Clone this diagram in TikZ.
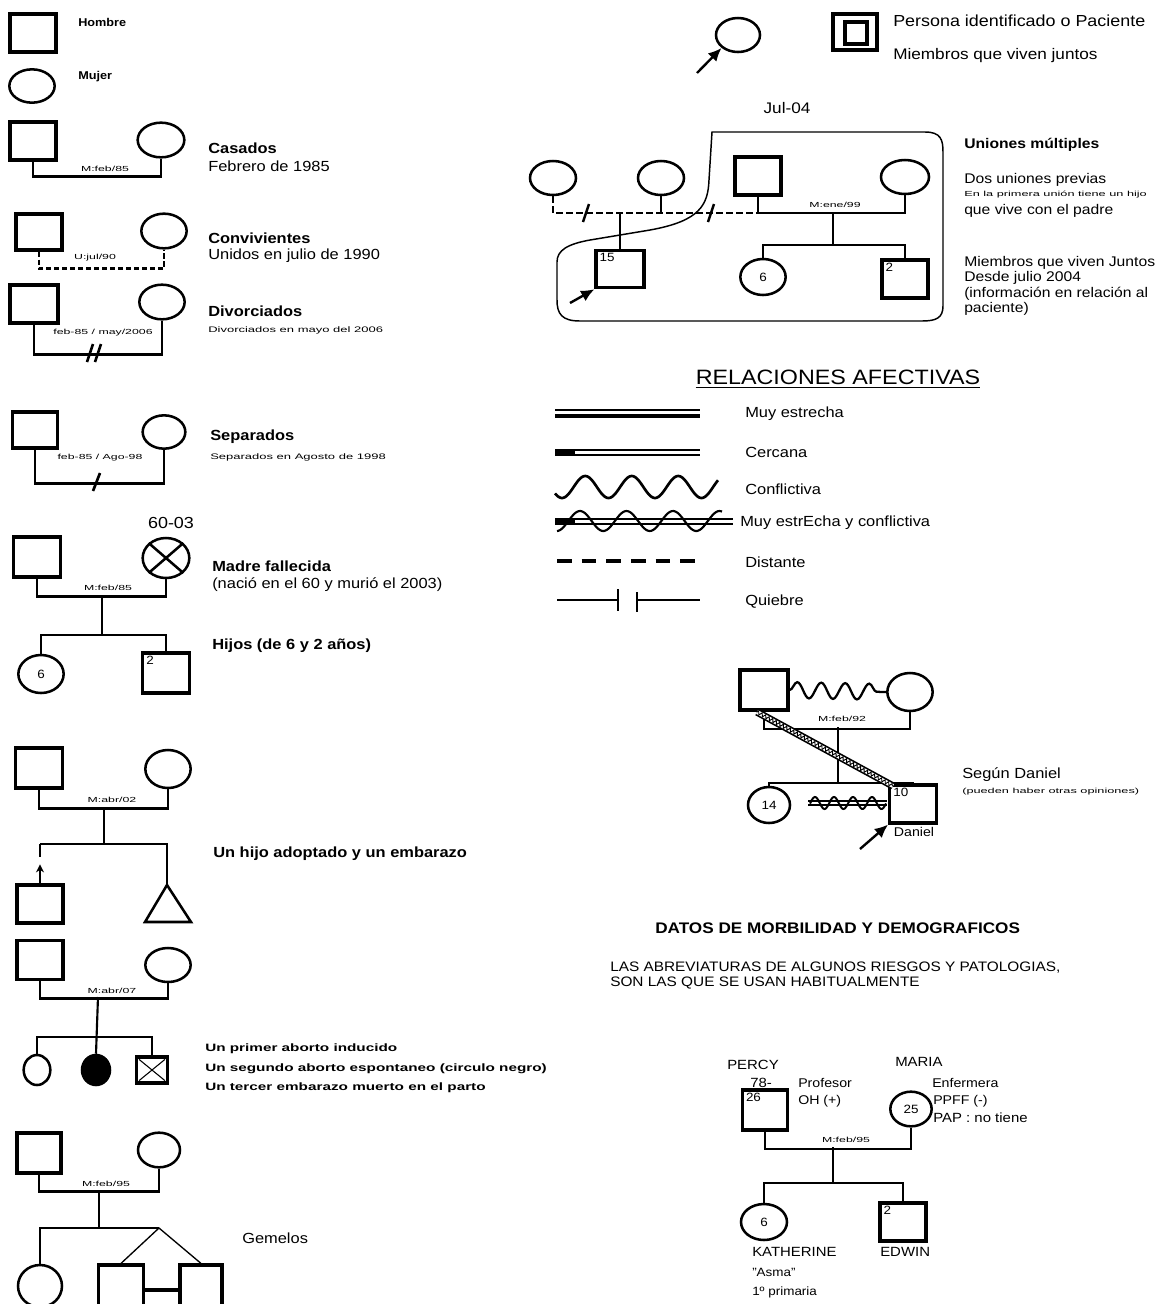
\documentclass[tikz,border=0pt]{standalone}
\usepackage{graphicx}
\usepackage{fontspec}
\setmainfont{Liberation Sans}[FakeStretch=1.12]
\usetikzlibrary{shapes.geometric,arrows.meta,decorations.pathmorphing,calc}
\newcommand{\wx}[2]{\scalebox{#1}[1]{#2}}
\begin{document}
\begin{tikzpicture}[x=0.75pt,y=-0.75pt,
  sq/.style={draw, line width=2.4pt, rectangle, inner sep=0pt},
  fe/.style={draw, ellipse, line width=1.9pt, inner sep=0pt},
  rel/.style={line width=2.2pt},
  kid/.style={line width=1.6pt},
  thinrel/.style={line width=1pt},
  lbl/.style={font=\fontsize{5.5}{6}\selectfont, inner sep=0pt},
  desc/.style={anchor=west, inner sep=0pt, font=\fontsize{11}{13}\selectfont},
  descb/.style={anchor=west, inner sep=0pt, font=\fontsize{11}{13}\selectfont\bfseries},
  smalltxt/.style={anchor=west, inner sep=0pt, font=\fontsize{6}{7}\selectfont},
  rdesc/.style={anchor=west, inner sep=0pt, font=\fontsize{10.5}{12}\selectfont},
  num/.style={inner sep=0pt, anchor=north west, font=\fontsize{9}{10}\selectfont},
  bigarrow/.style={line width=1.8pt, -{Latex[length=10pt,width=9pt]}},
]
\useasboundingbox (0,0) rectangle (1156,1304);
\fill[white] (0,0) rectangle (1156,1304);

% ---------------- LEFT COLUMN ----------------
\node[sq, minimum width=34.5pt, minimum height=28.5pt] (h1) at (33,33) {};
\node[descb, font=\fontsize{8.5}{10}\selectfont\bfseries] (t1) at (78,22) {Hombre};
\node[fe, minimum width=34pt, minimum height=25pt] (m1) at (32,86) {};
\node[descb, font=\fontsize{8.5}{10}\selectfont\bfseries] (t2) at (78,77) {Mujer};

% Casados
\node[sq, minimum width=34.5pt, minimum height=28.5pt] (h2) at (33,141) {};
\node[fe, minimum width=35pt, minimum height=26pt] (m2) at (161,140) {};
\draw[rel] (h2.south) -- ++(0,15) -| (m2.south);
\node[lbl] (l2) at (105,169) {\wx{1.5}{M:feb/85}};
\node[descb] (t3) at (208,148) {Casados};
\node[desc] (t4) at (208,166) {Febrero de 1985};

% Convivientes
\node[sq, minimum width=34.5pt, minimum height=27pt] (h3) at (39,232) {};
\node[fe, minimum width=34pt, minimum height=26pt] (m3) at (164,231) {};
\draw[rel, dash pattern=on 4pt off 2pt] (h3.south) -- ++(0,17) -| (m3.south);
\node[lbl] (l3) at (95,258) {\wx{1.5}{U:jul/90}};
\node[descb] (t5) at (208,238) {Convivientes};
\node[desc] (t6) at (208,256) {Unidos en julio de 1990};

% Divorciados
\node[sq, minimum width=36pt, minimum height=28.5pt] (h4) at (34,304) {};
\node[fe, minimum width=34pt, minimum height=26pt] (m4) at (162,302) {};
\draw[rel] (h4.south) -- ++(0,30) -| (m4.south);
\coordinate (d4) at (95,353);
\draw[line width=2pt] (d4) ++(-8,9) -- ++(6,-18) (d4) ++(0,9) -- ++(6,-18);
\node[lbl] (l4) at (103,333) {\wx{1.5}{feb-85 / may/2006}};
\node[descb] (t7) at (208,311) {Divorciados};
\node[smalltxt] (t8) at (208,330) {\wx{1.45}{Divorciados en mayo del 2006}};

% Separados
\node[sq, minimum width=34pt, minimum height=27pt] (h5) at (35,430) {};
\node[fe, minimum width=32pt, minimum height=25pt] (m5) at (164,432) {};
\draw[rel] (h5.south) -- ++(0,34) -| (m5.south);
\coordinate (d5) at (97,482);
\draw[line width=2pt] (d5) ++(-4,9) -- ++(7,-18);
\node[lbl] (l5) at (100,458) {\wx{1.5}{feb-85 / Ago-98}};
\node[descb] (t9) at (210,437) {Separados};
\node[smalltxt] (t10) at (210,457) {\wx{1.45}{Separados en Agosto de 1998}};

% Madre fallecida
\node[font=\fontsize{12}{14}\selectfont, inner sep=0pt] (y6) at (171,523) {60-03};
\node[sq, minimum width=35pt, minimum height=30pt] (h6) at (37,557) {};
\node[fe, minimum width=35pt, minimum height=30pt] (m6) at (166,558) {};
\draw[line width=1.9pt] (m6.north east) -- (m6.south west) (m6.north west) -- (m6.south east);
\draw[rel] (h6.south) -- ++(0,18) -| (m6.south);
\node[lbl] (l6) at (108,588) {\wx{1.5}{M:feb/85}};
\coordinate (j6) at (102,595);
\coordinate (k6) at (102,635);
\node[fe, minimum width=34pt, minimum height=28.5pt, font=\fontsize{9}{10}\selectfont] (c6) at (41,674) {6};
\node[sq, minimum width=35pt, minimum height=30pt] (s6) at (166,673) {};
\node[num] (n6) at ($(s6.north west)+(5,4)$) {2};
\draw[kid] (j6) -- (k6);
\draw[kid] (c6.north) |- (k6) -| (s6.north);
\node[descb] (t11) at (212,566) {Madre fallecida};
\node[desc] (t12) at (212,585) {(nació en el 60 y murió el 2003)};
\node[descb] (t13) at (212,646) {Hijos (de 6 y 2 años)};

% Adopcion y embarazo
\node[sq, minimum width=35pt, minimum height=30pt] (h7) at (39,768) {};
\node[fe, minimum width=34pt, minimum height=28.5pt] (m7) at (168,769) {};
\draw[rel] (h7.south) -- ++(0,19) -| (m7.south);
\node[lbl] (l7) at (112,800) {\wx{1.5}{M:abr/02}};
\coordinate (j7) at (104,807);
\coordinate (k7) at (104,844);
\node[sq, minimum width=34.5pt, minimum height=28.5pt] (a7) at (40,904) {};
\coordinate (t7apex) at (167,885);
\draw[line width=1.9pt, line join=miter] (t7apex) -- (191,922) -- (145,922) -- cycle;
\draw[kid] (j7) -- (k7);
\draw[kid] (a7.north |- k7) -- (t7apex |- k7) -- (t7apex);
\draw[rel] (a7.north |- k7) -- ++(0,13);
\draw[rel, -{Stealth[length=6pt,width=6pt]}] (a7.north) -- ++(0,-19);
\node[descb] (t14) at (213,854) {Un hijo adoptado y un embarazo};

% Abortos
\node[sq, minimum width=34.5pt, minimum height=29pt] (h8) at (40,960) {};
\node[fe, minimum width=34pt, minimum height=25.5pt] (m8) at (168,965) {};
\draw[rel] (h8.south) -- ++(0,17.5) -| (m8.south);
\node[lbl] (l8) at (112,991) {\wx{1.5}{M:abr/07}};
\coordinate (j8) at (98,997);
\coordinate (k8) at (98,1037);
\node[fe, minimum width=20pt, minimum height=22.5pt] (c8a) at (37,1070) {};
\node[fe, fill=black, minimum width=21pt, minimum height=22.5pt] (c8b) at (96,1070) {};
\node[sq, minimum width=23pt, minimum height=19.5pt] (s8) at (152,1070) {};
\draw[line width=0.8pt] ($(s8.north west)+(4,4)$) -- ($(s8.south east)+(-4,-4)$) ($(s8.north east)+(-4,4)$) -- ($(s8.south west)+(4,-4)$);
\draw[kid] (j8) -- (c8b.north);
\draw[kid] (c8a.north) |- (k8) -| (s8.north);
\node[descb, font=\fontsize{8}{9}\selectfont\bfseries] (t15) at (205,1049) {\wx{1.28}{Un primer aborto inducido}};
\node[descb, font=\fontsize{8}{9}\selectfont\bfseries] (t16) at (205,1069) {\wx{1.28}{Un segundo aborto espontaneo (circulo negro)}};
\node[descb, font=\fontsize{8}{9}\selectfont\bfseries] (t17) at (205,1088) {\wx{1.28}{Un tercer embarazo muerto en el parto}};

% Gemelos
\node[sq, minimum width=33pt, minimum height=30pt] (h9) at (39,1153) {};
\node[fe, minimum width=31.5pt, minimum height=26pt] (m9) at (159,1150) {};
\draw[rel] (h9.south) -- ++(0,17) -| (m9.south);
\node[lbl] (l9) at (106,1184) {\wx{1.5}{M:feb/95}};
\coordinate (j9) at (99,1190);
\coordinate (k9) at (99,1228);
\coordinate (tw) at (159,1228);
\node[fe, minimum width=33pt, minimum height=31.5pt] (c9) at (40,1286) {};
\node[sq, minimum width=34pt, minimum height=37.5pt] (tw1) at (121,1290) {};
\node[sq, minimum width=31.5pt, minimum height=37.5pt] (tw2) at (201,1290) {};
\draw[kid] (j9) -- (k9);
\draw[kid] (c9.north) |- (tw);
\draw[thinrel] (tw1.north) -- (tw) -- (tw2.north);
\draw[line width=3.2pt] (tw1.east) -- (tw2.west);
\node[desc] (t18) at (242,1238) {Gemelos};

% ---------------- RIGHT COLUMN ----------------
\node[fe, minimum width=33pt, minimum height=25.5pt] (pc) at (738,35) {};
\coordinate (pa) at (697,73);
\draw[bigarrow] (pa) -- (pc.south west);
\node[sq, line width=2.8pt, minimum width=33pt, minimum height=27pt] (pat) at (855,32) {};
\node[sq, line width=2.8pt, minimum width=16pt, minimum height=16pt] (pati) at (856,33) {};
\node[desc, font=\fontsize{12}{14}\selectfont] (t19) at (893,21) {Persona identificado o Paciente};
\node[desc, font=\fontsize{11.5}{14}\selectfont] (t20) at (893,56) {Miembros que viven juntos};

% Uniones multiples
\node[font=\fontsize{11.5}{13}\selectfont, inner sep=0pt] (jul) at (787,108) {Jul-04};
\draw[line width=1.1pt]
  (712,132) -- (925,132) .. controls (941,132) and (943,140) .. (943,152)
  -- (943,306) .. controls (943,318) and (936,321) .. (922,321)
  -- (580,321) .. controls (562,321) and (557,314) .. (557,300)
  -- (557,262) .. controls (557,250) and (568,244) .. (590,240)
  -- (650,230) .. controls (700,221) and (708,205) .. (709,180) -- cycle;
\node[fe, minimum width=34.5pt, minimum height=25.5pt] (mc1) at (553,178) {};
\node[fe, minimum width=34.5pt, minimum height=25.5pt] (mc2) at (661,178) {};
\node[sq, minimum width=34.5pt, minimum height=28.5pt] (mf) at (758,176) {};
\node[fe, minimum width=36pt, minimum height=25.5pt] (mw) at (905,177) {};
\coordinate (ym) at (0,213);
\draw[rel, dash pattern=on 5pt off 2.5pt] (mc1.south) -- (mc1.south |- ym) -- (mf.south |- ym);
\draw[kid] (mc2.south) -- (mc2.south |- ym);
\draw[rel] (mf.south) -- (mf.south |- ym) -- (mw.south |- ym) -- (mw.south);
\coordinate (sl1) at (586,213);
\coordinate (sl2) at (711,213);
\draw[line width=1.8pt] (sl1) ++(-3,9) -- ++(6,-18) (sl2) ++(-3,9) -- ++(6,-18);
\node[lbl] (lm) at (835,205) {\wx{1.5}{M:ene/99}};
\node[sq, minimum width=36pt, minimum height=28pt] (ms) at (620,269) {};
\node[num] (n15) at ($(ms.north west)+(5,4)$) {15};
\draw[kid] (ms.north |- ym) -- (ms.north);
\coordinate (ma) at (570,303);
\draw[bigarrow] (ma) -- (ms.south west);
\coordinate (jm) at (833,213);
\coordinate (km) at (833,245);
\node[fe, minimum width=34pt, minimum height=27pt, font=\fontsize{9}{10}\selectfont] (mk) at (763,277) {6};
\node[sq, minimum width=34.5pt, minimum height=28.5pt] (mb) at (905,279) {};
\node[num] (n2b) at ($(mb.north west)+(5,4)$) {2};
\draw[kid] (jm) -- (km);
\draw[kid] (mk.north) |- (km) -| (mb.north);
\node[descb, font=\fontsize{10.5}{12}\selectfont\bfseries] (t21) at (964,145) {Uniones múltiples};
\node[rdesc] (t22) at (964,180) {Dos uniones previas};
\node[smalltxt, font=\fontsize{5.5}{6}\selectfont] (t23) at (964,195) {\wx{1.55}{En la primera unión tiene un hijo}};
\node[rdesc] (t24) at (964,211) {que vive con el padre};
\node[rdesc] (t25) at (964,263) {Miembros que viven Juntos};
\node[rdesc] (t26) at (964,278) {Desde julio 2004};
\node[rdesc] (t27) at (964,294) {(información en relación al};
\node[rdesc] (t28) at (964,309) {paciente)};

% Relaciones afectivas
\node[font=\fontsize{15.6}{18}\selectfont, inner sep=0pt] (ra) at (838,377) {RELACIONES AFECTIVAS};
\draw[line width=1.1pt] ($(ra.south west)+(0,3)$) -- ($(ra.south east)+(0,3)$);
\coordinate (r1a) at (555,416); \coordinate (r1b) at (700,416);
\draw[line width=3.4pt] (r1a) -- (r1b);
\draw[line width=1pt] ($(r1a)+(0,-6)$) -- ($(r1b)+(0,-6)$);
\node[desc] (t29) at (745,414) {Muy estrecha};
\coordinate (r2a) at (555,450); \coordinate (r2b) at (700,450);
\draw[line width=1.3pt] (r2a) -- (r2b) ($(r2a)+(0,5)$) -- ($(r2b)+(0,5)$);
\draw[line width=4pt] ($(r2a)+(0,2.5)$) -- ++(20,0);
\node[desc] (t30) at (745,452) {Cercana};
\draw[line width=2pt] plot[domain=555:718, samples=120, smooth] (\x,{487+11*cos(7.742*(\x-562))});
\node[desc] (t31) at (745,489) {Conflictiva};
\coordinate (r4a) at (555,519); \coordinate (r4b) at (733,519);
\draw[line width=1.1pt] (r4a) -- (r4b) ($(r4a)+(0,5)$) -- ($(r4b)+(0,5)$);
\draw[line width=2.8pt] (555,521.5) -- (575,521.5);
\draw[line width=1.6pt] plot[domain=557:722, samples=120, smooth] (\x,{521-10*cos(7.742*(\x-580))});
\node[desc] (t32) at (740,523) {Muy estrEcha y conflictiva};
\coordinate (r5a) at (557,561); \coordinate (r5b) at (702,561);
\draw[line width=2.6pt, dash pattern=on 11pt off 7.5pt] (r5a) -- (r5b);
\node[desc] (t33) at (745,562) {Distante};
\coordinate (r6a) at (557,600); \coordinate (r6b) at (618,600);
\coordinate (r6c) at (637,600); \coordinate (r6d) at (700,600);
\draw[line width=1.6pt] (r6a) -- (r6b) (r6c) -- (r6d);
\draw[line width=2.2pt] ($(r6b)+(0,-11)$) -- ($(r6b)+(0,11)$) ($(r6c)+(0,-8)$) -- ($(r6c)+(0,12)$);
\node[desc] (t34) at (745,602) {Quiebre};

% Segun Daniel
\node[sq, minimum width=36pt, minimum height=30pt] (df) at (764,690) {};
\node[fe, minimum width=34pt, minimum height=28.5pt] (dm) at (910,692) {};
\draw[line width=1.7pt, decorate, decoration={snake, amplitude=6pt, segment length=18pt}] (df.east) -- (dm.west);
\draw[kid] (df.south) -- ++(0,17) -| (dm.south);
\node[lbl] (ld) at (842,719) {\wx{1.5}{M:feb/92}};
\coordinate (jd) at (838,727);
\coordinate (kd) at (838,783);
\node[fe, minimum width=31.5pt, minimum height=27pt, font=\fontsize{9}{10}\selectfont] (dc) at (769,805) {14};
\node[sq, minimum width=35pt, minimum height=28.5pt] (ds) at (913,804) {};
\node[num] (n10) at ($(ds.north west)+(5,4)$) {10};
\draw[thinrel] (jd) -- (kd);
\draw[thinrel] (dc.north) |- (kd) -| (ds.north);
\coordinate (dd1) at (757,712);
\coordinate (dd2) at (893,786);
\draw[line width=5.5pt] (dd1) -- (dd2);
\draw[line width=3pt, white] (dd1) -- (dd2);
\draw[line width=0.7pt, decorate, decoration={zigzag, amplitude=1.3pt, segment length=3pt}] (dd1) -- (dd2);
\coordinate (de1) at (808,801); \coordinate (de2) at (887,801);
\draw[line width=1.1pt] (de1) -- (de2) ($(de1)+(0,4)$) -- ($(de2)+(0,4)$);
\draw[line width=1.5pt] plot[domain=810:886, samples=80, smooth] (\x,{803-6*cos(18.95*(\x-815))});
\node[font=\fontsize{9.5}{11}\selectfont, inner sep=0pt] (dn) at (914,832) {Daniel};
\coordinate (da) at (860,849);
\draw[bigarrow] (da) -- (ds.south west);
\node[rdesc, font=\fontsize{11}{13}\selectfont] (t35) at (962,775) {Según Daniel};
\node[smalltxt, font=\fontsize{5.5}{6}\selectfont] (t36) at (962,792) {\wx{1.55}{(pueden haber otras opiniones)}};

% Datos de morbilidad
\node[descb, font=\fontsize{11.5}{13}\selectfont\bfseries] (t37) at (655,928) {DATOS DE MORBILIDAD Y DEMOGRAFICOS};
\node[desc, font=\fontsize{10.3}{12}\selectfont] (t38) at (610,968) {LAS ABREVIATURAS DE ALGUNOS RIESGOS Y PATOLOGIAS,};
\node[desc, font=\fontsize{10.3}{12}\selectfont] (t39) at (610,983) {SON LAS QUE SE USAN HABITUALMENTE};

% Percy y Maria
\node[desc, font=\fontsize{10}{12}\selectfont] (t40) at (727,1065) {PERCY};
\node[desc, font=\fontsize{10}{12}\selectfont] (t41) at (750,1083) {78-};
\node[sq, minimum width=34pt, minimum height=30pt] (pp) at (765,1110) {};
\node[num] (n26) at ($(pp.north west)+(5,4)$) {26};
\node[desc, font=\fontsize{9.5}{12}\selectfont] (t42) at (798,1083) {Profesor};
\node[desc, font=\fontsize{9.5}{12}\selectfont] (t43) at (798,1101) {OH (+)};
\node[desc, font=\fontsize{10}{12}\selectfont] (t44) at (895,1062) {MARIA};
\node[fe, minimum width=31pt, minimum height=26pt, font=\fontsize{9}{10}\selectfont] (pm) at (911,1109) {25};
\node[desc, font=\fontsize{9.5}{12}\selectfont] (t45) at (932,1083) {Enfermera};
\node[desc, font=\fontsize{9.5}{12}\selectfont] (t46) at (933,1101) {PPFF (-)};
\node[desc, font=\fontsize{10}{12}\selectfont] (t47) at (933,1118) {PAP : no tiene};
\draw[kid] (pp.south) -- ++(0,17) -| (pm.south);
\node[lbl] (lp) at (846,1140) {\wx{1.5}{M:feb/95}};
\coordinate (jp) at (833,1147);
\coordinate (kp) at (833,1183);
\node[fe, minimum width=34.5pt, minimum height=27pt, font=\fontsize{9}{10}\selectfont] (pk) at (764,1222) {6};
\node[sq, minimum width=34.5pt, minimum height=28.5pt] (pe) at (903,1222) {};
\node[num] (n2c) at ($(pe.north west)+(5,4)$) {2};
\draw[kid] (jp) -- (kp);
\draw[kid] (pk.north) |- (kp) -| (pe.north);
\node[desc, font=\fontsize{10}{12}\selectfont] (t48) at (752,1252) {KATHERINE};
\node[desc, font=\fontsize{9}{11}\selectfont] (t49) at (752,1272) {"Asma"};
\node[desc, font=\fontsize{9}{11}\selectfont] (t50) at (752,1292) {1º primaria};
\node[desc, font=\fontsize{10}{12}\selectfont] (t51) at (880,1252) {EDWIN};
\end{tikzpicture}
\end{document}
